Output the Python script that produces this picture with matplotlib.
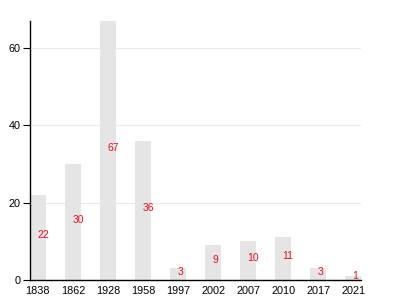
import matplotlib
matplotlib.use("Agg")
import matplotlib.pyplot as plt
import numpy as np

years = ["1838", "1862", "1928", "1958", "1997", "2002", "2007", "2010", "2017", "2021"]
counts = [22, 30, 67, 36, 3, 9, 10, 11, 3, 1]

plt.rcParams['font.family'] = ['Liberation Sans', 'DejaVu Sans']

fig = plt.figure(figsize=(4, 3), dpi=100)
ax = fig.add_axes([30 / 400, 20 / 300, 331 / 400, 259.5 / 300])

x = np.arange(len(years))
width = 0.45
ax.bar(x, counts, width=width, color="#e5e5e5", zorder=2)

# red value labels sit half way up each bar
for xi, val in zip(x, counts):
    ax.text(xi - 0.02, val / 2 - 0.7, str(val), color="#e8101e", fontsize=7.5,
            ha="left", va="bottom", zorder=3)

ax.set_xlim(-width / 2, len(years) - 1 + width / 2)
ax.set_ylim(0, 67)
ax.set_xticks(x)
ax.set_xticklabels(years)
ax.set_yticks([0, 20, 40, 60])
ax.tick_params(axis="x", length=0, pad=4, labelsize=7.8)
ax.tick_params(axis="y", length=5, width=0.8, pad=2, labelsize=7.8)

ax.grid(axis="y", color="#eaeaea", linewidth=0.8, zorder=1)
ax.set_axisbelow(True)
for side in ["top", "right"]:
    ax.spines[side].set_visible(False)
for side in ["left", "bottom"]:
    ax.spines[side].set_linewidth(1.0)

fig.savefig("out.png", dpi=100)
